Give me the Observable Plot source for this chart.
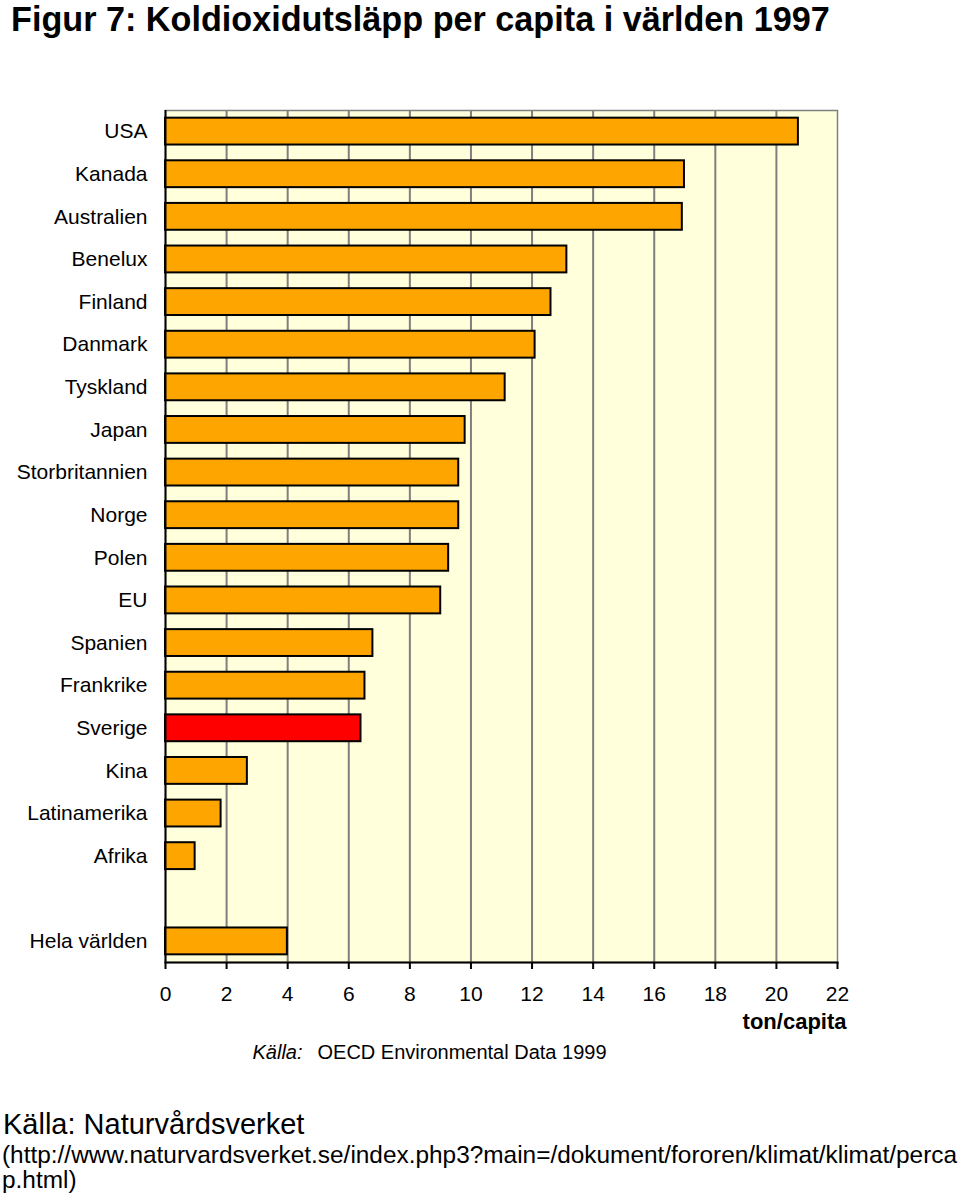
<!DOCTYPE html>
<html>
<head>
<meta charset="utf-8">
<script src="https://cdn.jsdelivr.net/npm/d3@7"></script>
<script src="https://cdn.jsdelivr.net/npm/@observablehq/plot@0.6"></script>
<style>
  html, body { margin: 0; padding: 0; background: #fff; }
  #page { position: relative; width: 960px; height: 1202px; overflow: hidden; font-family: "Liberation Sans", Arial, sans-serif; color: #000; }
  #title { position: absolute; left: 11px; top: 2px; font-size: 34.2px; line-height: 34px; font-weight: bold; white-space: nowrap; }
  #chart { position: absolute; left: 0; top: 40px; }
  #source1 { position: absolute; left: 3px; top: 1110px; font-size: 29px; line-height: 29px; white-space: nowrap; }
  #source2 { position: absolute; left: 2px; top: 1142px; font-size: 24.4px; line-height: 25px; white-space: nowrap; }
</style>
</head>
<body>
<div id="page">
  <div id="title">Figur 7: Koldioxidutsläpp per capita i världen 1997</div>
  <div id="chart"></div>
  <div id="source1">Källa: Naturvårdsverket</div>
  <div id="source2">(http://www.naturvardsverket.se/index.php3?main=/dokument/fororen/klimat/klimat/perca<br>p.html)</div>
</div>
<script>
// Categories (top to bottom) and CO2 emissions, ton per capita, 1997
const countries = ["USA", "Kanada", "Australien", "Benelux", "Finland", "Danmark", "Tyskland", "Japan",
  "Storbritannien", "Norge", "Polen", "EU", "Spanien", "Frankrike", "Sverige", "Kina", "Latinamerika", "Afrika",
  "Hela världen"];
const values = [20.72, 16.99, 16.92, 13.14, 12.62, 12.1, 11.12, 9.81,
  9.6, 9.6, 9.27, 9.01, 6.79, 6.53, 6.4, 2.68, 1.82, 0.97,
  3.99];
const highlighted = "Sverige";
const gapLabel = "";              // empty slot before the world total
const xTicks = [0, 2, 4, 6, 8, 10, 12, 14, 16, 18, 20, 22];
const xUnit = "ton/capita";
const chartSourceLead = "Källa:";
const chartSourceText = "OECD Environmental Data 1999";

const data = countries.map((name, i) => ({name, value: values[i]}));
const yDomain = [...countries.slice(0, -1), gapLabel, countries[countries.length - 1]];

const plot = Plot.plot({
  width: 960,
  height: 1060,
  marginTop: 70,
  marginBottom: 138,
  marginLeft: 165,
  marginRight: 123,
  style: {fontFamily: "'Liberation Sans', Arial, sans-serif", background: "transparent", color: "#000"},
  x: {domain: [xTicks[0], xTicks[xTicks.length - 1]]},
  y: {domain: yDomain, paddingInner: 0.37, paddingOuter: 0.18, round: false},
  color: {type: "identity"},
  marks: [
    Plot.frame({fill: "#FFFFDC", stroke: "#808080", strokeWidth: 1.5}),
    Plot.ruleX(xTicks.filter(t => t > xTicks[0] && t < xTicks[xTicks.length - 1]), {stroke: "#7f7f7f", strokeWidth: 2}),
    Plot.barX(data, {
      x: "value",
      y: "name",
      fill: d => d.name === highlighted ? "#FF0000" : "#FFA500",
      stroke: "#000",
      strokeWidth: 2
    }),
    Plot.ruleX([xTicks[0]], {stroke: "#000", strokeWidth: 2}),
    Plot.frame({anchor: "bottom", stroke: "#000", strokeWidth: 2}),
    Plot.axisX({ticks: xTicks, tickSize: 7, tickPadding: 17, fontSize: 21, tickFormat: d => String(d), label: null, strokeWidth: 2}),
    Plot.axisY({tickSize: 0, tickPadding: 18, fontSize: 21, label: null}),
    Plot.text([xUnit], {text: d => d, frameAnchor: "bottom-right", textAnchor: "end", lineAnchor: "bottom", dx: 9, dy: 66, fontSize: 22, fontWeight: "bold"}),
    Plot.text([chartSourceLead], {text: d => d, frameAnchor: "bottom-left", textAnchor: "start", lineAnchor: "bottom", dx: 87, dy: 96, fontSize: 20, fontStyle: "italic"}),
    Plot.text([chartSourceText], {text: d => d, frameAnchor: "bottom-left", textAnchor: "start", lineAnchor: "bottom", dx: 152, dy: 96, fontSize: 20})
  ]
});
document.getElementById("chart").appendChild(plot);
</script>
</body>
</html>
